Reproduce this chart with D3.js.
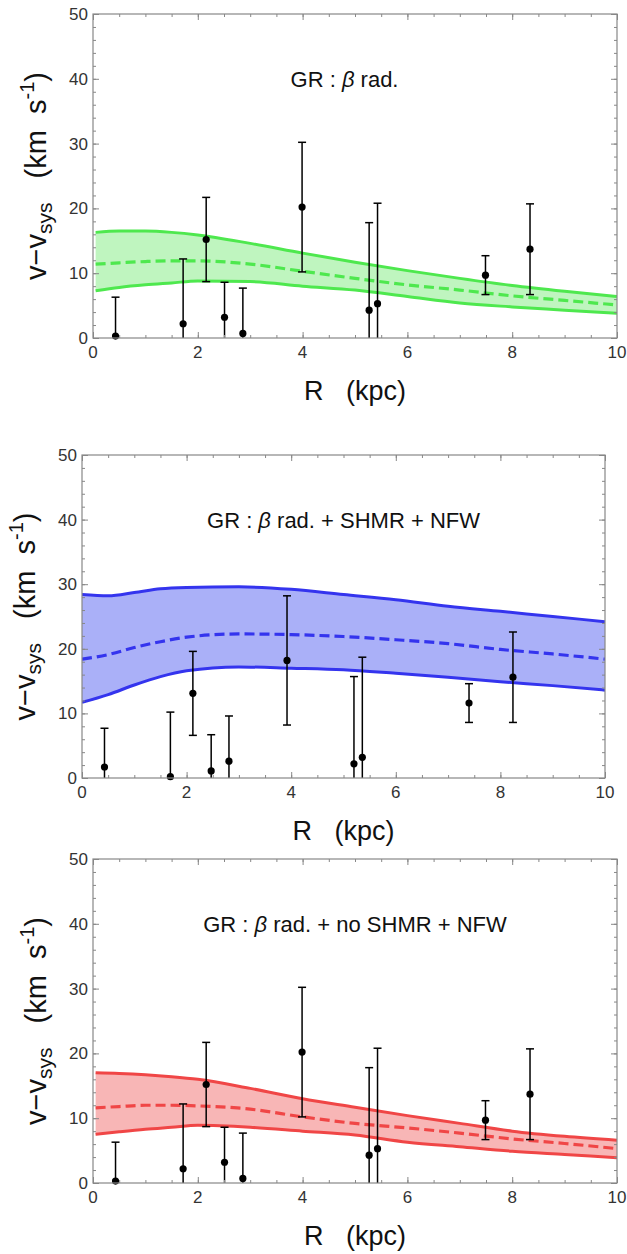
<!DOCTYPE html>
<html lang="en">
<head>
  <meta charset="utf-8">
  <title>v - vsys vs R</title>
  <script src="https://cdn.jsdelivr.net/npm/d3@7/dist/d3.min.js"></script>
  <style>
    * { margin: 0; padding: 0; }
    body { background: #fff; font-family: "Liberation Sans", Arial, sans-serif; }
    svg { display: block; }
  </style>
</head>
<body>
  <svg id="chart" width="627" height="1254"></svg>

  <script>
    // tick labels
    const xTicks = [0, 2, 4, 6, 8, 10]
    const yTicks = [0, 10, 20, 30, 40, 50]

    // observed points, panels 1 and 3
    const obsR = [0.43, 1.72, 2.16, 2.51, 2.86, 3.99, 5.27, 5.43, 7.49, 8.34]
    const obsV = [0.3, 2.2, 15.2, 3.2, 0.7, 20.2, 4.3, 5.3, 9.7, 13.7]
    const obsErr = [6, 10, 6.5, 5.4, 7, 10, 13.5, 15.5, 3, 7]

    // observed points, panel 2
    const obsR2 = [0.43, 1.69, 2.12, 2.47, 2.81, 3.92, 5.2, 5.36, 7.4, 8.24]
    const obsV2 = [1.7, 0.2, 13.1, 1.1, 2.6, 18.2, 2.2, 3.2, 11.6, 15.6]
    const obsErr2 = [6, 10, 6.5, 5.6, 7, 10, 13.5, 15.5, 3, 7]

    // model bands
    const bandR = [0.05, 0.5, 1, 1.5, 2, 3, 4, 5, 6, 7, 8, 9, 10]
    const bandR2 = [0, 0.5, 1, 1.5, 2, 3, 4, 5, 6, 7, 8, 9, 10]

    const greenHi = [16.3, 16.5, 16.5, 16.3, 15.9, 14.6, 13.1, 11.7, 10.4, 9.2, 8.1, 7.2, 6.4]
    const greenMid = [11.4, 11.6, 11.8, 11.9, 11.9, 11.4, 10.3, 9.2, 8.2, 7.4, 6.5, 5.8, 5.1]
    const greenLo = [7.3, 7.8, 8.2, 8.5, 8.8, 8.7, 8.0, 7.4, 6.4, 5.4, 4.8, 4.3, 3.8]

    const blueHi = [28.4, 28.2, 28.7, 29.3, 29.5, 29.6, 29.2, 28.4, 27.6, 26.6, 25.8, 25.0, 24.2]
    const blueMid = [18.4, 19.1, 20.2, 21.1, 21.8, 22.3, 22.2, 21.9, 21.4, 20.8, 19.9, 19.2, 18.4]
    const blueLo = [11.7, 12.9, 14.4, 15.7, 16.6, 17.2, 17.0, 16.75, 16.2, 15.6, 14.9, 14.3, 13.6]

    const redHi = [17.0, 16.9, 16.7, 16.4, 16.0, 14.6, 13.0, 11.7, 10.4, 9.2, 8.0, 7.2, 6.6]
    const redMid = [11.6, 11.8, 12.0, 12.0, 11.9, 11.4, 10.2, 9.2, 8.5, 7.7, 6.8, 6.1, 5.3]
    const redLo = [7.5, 7.9, 8.3, 8.6, 8.9, 8.6, 8.0, 7.4, 6.3, 5.6, 4.9, 4.4, 3.9]

    const titles = ['GR : ', 'GR : ', 'GR : ']
    const titleTails = [' rad.', ' rad. + SHMR + NFW', ' rad. + no SHMR + NFW']

    const panels = [
      { left: 93, top: 14, w: 524, h: 324, line: '#4ee84e', fill: '#bff5bf',
        r: bandR, hi: greenHi, mid: greenMid, lo: greenLo, pr: obsR, pv: obsV, pe: obsErr, tx: 4.8 },
      { left: 82, top: 455, w: 523, h: 323, line: '#3434ee', fill: '#aab0f8',
        r: bandR2, hi: blueHi, mid: blueMid, lo: blueLo, pr: obsR2, pv: obsV2, pe: obsErr2, tx: 5 },
      { left: 93, top: 859, w: 524, h: 324, line: '#f04646', fill: '#f8b6b6',
        r: bandR, hi: redHi, mid: redMid, lo: redLo, pr: obsR, pv: obsV, pe: obsErr, tx: 5 }
    ]

    const svg = d3.select('#chart')
    const frameColor = '#888'

    panels.forEach((p, i) => {
      const g = svg.append('g').attr('transform', 'translate(' + p.left + ',' + p.top + ')')
      const x = d3.scaleLinear().domain([0, 10]).range([0, p.w])
      const y = d3.scaleLinear().domain([0, 50]).range([p.h, 0])

      g.append('clipPath').attr('id', 'clip' + i)
        .append('rect').attr('width', p.w).attr('height', p.h)

      const plot = g.append('g').attr('clip-path', 'url(#clip' + i + ')')
      const pts = p.r.map((r, k) => ({ r: r, hi: p.hi[k], mid: p.mid[k], lo: p.lo[k] }))

      plot.append('path')
        .datum(pts)
        .attr('fill', p.fill)
        .attr('d', d3.area().curve(d3.curveMonotoneX)
          .x(d => x(d.r)).y0(d => y(d.lo)).y1(d => y(d.hi)))

      ;['hi', 'lo'].forEach(key => {
        plot.append('path')
          .datum(pts)
          .attr('fill', 'none')
          .attr('stroke', p.line)
          .attr('stroke-width', 3)
          .attr('d', d3.line().curve(d3.curveMonotoneX).x(d => x(d.r)).y(d => y(d[key])))
      })

      plot.append('path')
        .datum(pts)
        .attr('fill', 'none')
        .attr('stroke', p.line)
        .attr('stroke-width', 3.2)
        .attr('stroke-dasharray', '10,5')
        .attr('d', d3.line().curve(d3.curveMonotoneX).x(d => x(d.r)).y(d => y(d.mid)))

      const obs = p.pr.map((r, k) => ({ r: r, v: p.pv[k], e: p.pe[k] }))

      plot.selectAll('line.err').data(obs).join('line')
        .attr('x1', d => x(d.r)).attr('x2', d => x(d.r))
        .attr('y1', d => y(d.v - d.e)).attr('y2', d => y(d.v + d.e))
        .attr('stroke', '#000').attr('stroke-width', 1.5)

      plot.selectAll('line.capHi').data(obs).join('line')
        .attr('x1', d => x(d.r) - 4).attr('x2', d => x(d.r) + 4)
        .attr('y1', d => y(d.v + d.e)).attr('y2', d => y(d.v + d.e))
        .attr('stroke', '#000').attr('stroke-width', 1.5)

      plot.selectAll('line.capLo').data(obs.filter(d => d.v - d.e > 0)).join('line')
        .attr('x1', d => x(d.r) - 4).attr('x2', d => x(d.r) + 4)
        .attr('y1', d => y(d.v - d.e)).attr('y2', d => y(d.v - d.e))
        .attr('stroke', '#000').attr('stroke-width', 1.5)

      g.selectAll('circle').data(obs).join('circle')
        .attr('cx', d => x(d.r)).attr('cy', d => y(d.v))
        .attr('r', 3.6).attr('fill', '#000')

      // ticks on all four sides, pointing inward
      const minorX = d3.range(0, 10.01, 0.5)
      const minorY = d3.range(0, 50.01, 2)
      const tickAxes = [
        [d3.axisBottom(x).tickValues(minorX).tickSize(-3), 'translate(0,' + p.h + ')'],
        [d3.axisBottom(x).tickValues(xTicks).tickSize(-6), 'translate(0,' + p.h + ')'],
        [d3.axisTop(x).tickValues(minorX).tickSize(-3), null],
        [d3.axisTop(x).tickValues(xTicks).tickSize(-6), null],
        [d3.axisLeft(y).tickValues(minorY).tickSize(-3), null],
        [d3.axisLeft(y).tickValues(yTicks).tickSize(-6), null],
        [d3.axisRight(y).tickValues(minorY).tickSize(-3), 'translate(' + p.w + ',0)'],
        [d3.axisRight(y).tickValues(yTicks).tickSize(-6), 'translate(' + p.w + ',0)']
      ]
      tickAxes.forEach(([ax, tr]) => {
        const a = g.append('g').call(ax.tickFormat(''))
        if (tr) a.attr('transform', tr)
        a.select('.domain').remove()
        a.selectAll('line').attr('stroke', frameColor)
      })

      g.append('rect')
        .attr('width', p.w).attr('height', p.h)
        .attr('fill', 'none').attr('stroke', frameColor).attr('stroke-width', 1.2)

      g.selectAll('text.xt').data(xTicks).join('text')
        .attr('x', d => x(d)).attr('y', p.h + 20)
        .attr('text-anchor', 'middle')
        .attr('font-size', 17).attr('fill', '#333')
        .text(d => d)

      g.selectAll('text.yt').data(yTicks).join('text')
        .attr('x', -5).attr('y', d => y(d) + 6)
        .attr('text-anchor', 'end')
        .attr('font-size', 17).attr('fill', '#333')
        .text(d => d)

      // panel title
      const t = g.append('text')
        .attr('x', x(p.tx)).attr('y', y(40) + 8)
        .attr('text-anchor', 'middle')
        .attr('font-size', 22).attr('fill', '#111')
      t.append('tspan').text(titles[i])
      t.append('tspan').attr('font-style', 'italic').text('β')
      t.append('tspan').text(titleTails[i])

      // axis labels
      g.append('text')
        .attr('x', p.w / 2).attr('y', p.h + 62)
        .attr('text-anchor', 'middle')
        .attr('font-size', 27).attr('fill', '#111')
        .attr('xml:space', 'preserve')
        .text('R   (kpc)')

      const yl = g.append('text')
        .attr('transform', 'translate(' + (-47) + ',' + (p.h / 2) + ') rotate(-90)')
        .attr('text-anchor', 'middle')
        .attr('font-size', 29).attr('fill', '#111')
        .attr('xml:space', 'preserve')
      yl.append('tspan').text('v−v')
      yl.append('tspan').attr('font-size', 21).attr('dy', 6).text('sys')
      yl.append('tspan').attr('dy', -6).text('   (km  s')
      yl.append('tspan').attr('font-size', 20).attr('dy', -12).text('-1')
      yl.append('tspan').attr('dy', 12).text(')')
    })
  </script>
</body>
</html>
